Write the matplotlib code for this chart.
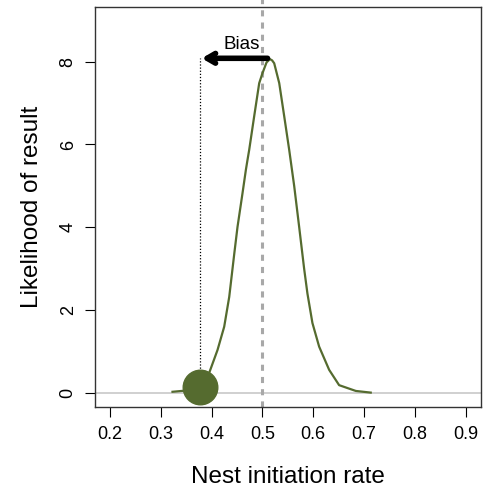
import matplotlib
matplotlib.use("Agg")
import matplotlib.pyplot as plt

plt.rcParams['font.family'] = ['Liberation Sans', 'DejaVu Sans']

# likelihood curve
rate = [0.323, 0.350, 0.370, 0.385, 0.395, 0.4116, 0.4247, 0.4346, 0.4444,
        0.4509, 0.4607, 0.4674, 0.4706, 0.4739, 0.4837, 0.4936, 0.500, 0.508,
        0.5146, 0.519, 0.5231, 0.533, 0.5428, 0.5526, 0.5624, 0.5722,
        0.582, 0.5885, 0.5983, 0.6115, 0.6312, 0.6508, 0.6837, 0.713]
likelihood = [0.03, 0.06, 0.15, 0.32, 0.48, 1.04, 1.60, 2.32, 3.35,
              4.01, 4.82, 5.39, 5.63, 5.87, 6.68, 7.48, 7.72, 7.98,
              8.06, 8.03, 7.96, 7.48, 6.68, 5.87, 5.0, 4.01,
              3.0, 2.4, 1.69, 1.12, 0.56, 0.19, 0.05, 0.01]

observed = 0.378
observed_y = 0.15
true_rate = 0.5
peak_rate = 0.5155
peak_y = 8.08

xticks = [0.2, 0.3, 0.4, 0.5, 0.6, 0.7, 0.8, 0.9]
yticks = [0, 2, 4, 6, 8]

olive = '#556B2F'

fig = plt.figure(figsize=(5.0, 5.01), dpi=100)
ax = fig.add_axes([0.19, 0.187, 0.771, 0.80])

ax.axhline(0, color='#c8c8c8', lw=1.2, zorder=1)
ax.plot([true_rate, true_rate], [-0.345, 9.5], color='#a8a8a8', lw=2.2,
        ls=(0, (2, 2)), clip_on=False, zorder=1)
ax.plot(rate, likelihood, color=olive, lw=1.6, zorder=2)
ax.plot([observed, observed], [observed_y, peak_y], color='black', lw=0.9,
        ls=(0, (1, 1.5)), zorder=2)
ax.scatter([observed], [observed_y], s=620, color=olive, zorder=3)
ax.annotate('', xy=(observed - 0.003, peak_y), xytext=(peak_rate, peak_y),
            arrowprops=dict(arrowstyle='->,head_length=0.6,head_width=0.35',
                            color='black', lw=4), zorder=4)
ax.text(0.459, 8.42, 'Bias', ha='center', va='center', fontsize=13.5)

ax.set_xlim(0.1705, 0.929)
ax.set_ylim(-0.345, 9.33)
ax.set_xticks(xticks)
ax.set_xticklabels([str(t) for t in xticks])
ax.set_yticks(yticks)
ax.set_yticklabels([str(t) for t in yticks], rotation=90, va='center')
ax.tick_params(length=7.2, width=0.8, labelsize=13, pad=6)
for s in ax.spines.values():
    s.set_linewidth(1.0)
    s.set_color('#333333')

ax.set_xlabel('Nest initiation rate', fontsize=17.5, labelpad=17)
ax.set_ylabel('Likelihood of result', fontsize=17.5, labelpad=12)

fig.savefig('out.png', dpi=100)
